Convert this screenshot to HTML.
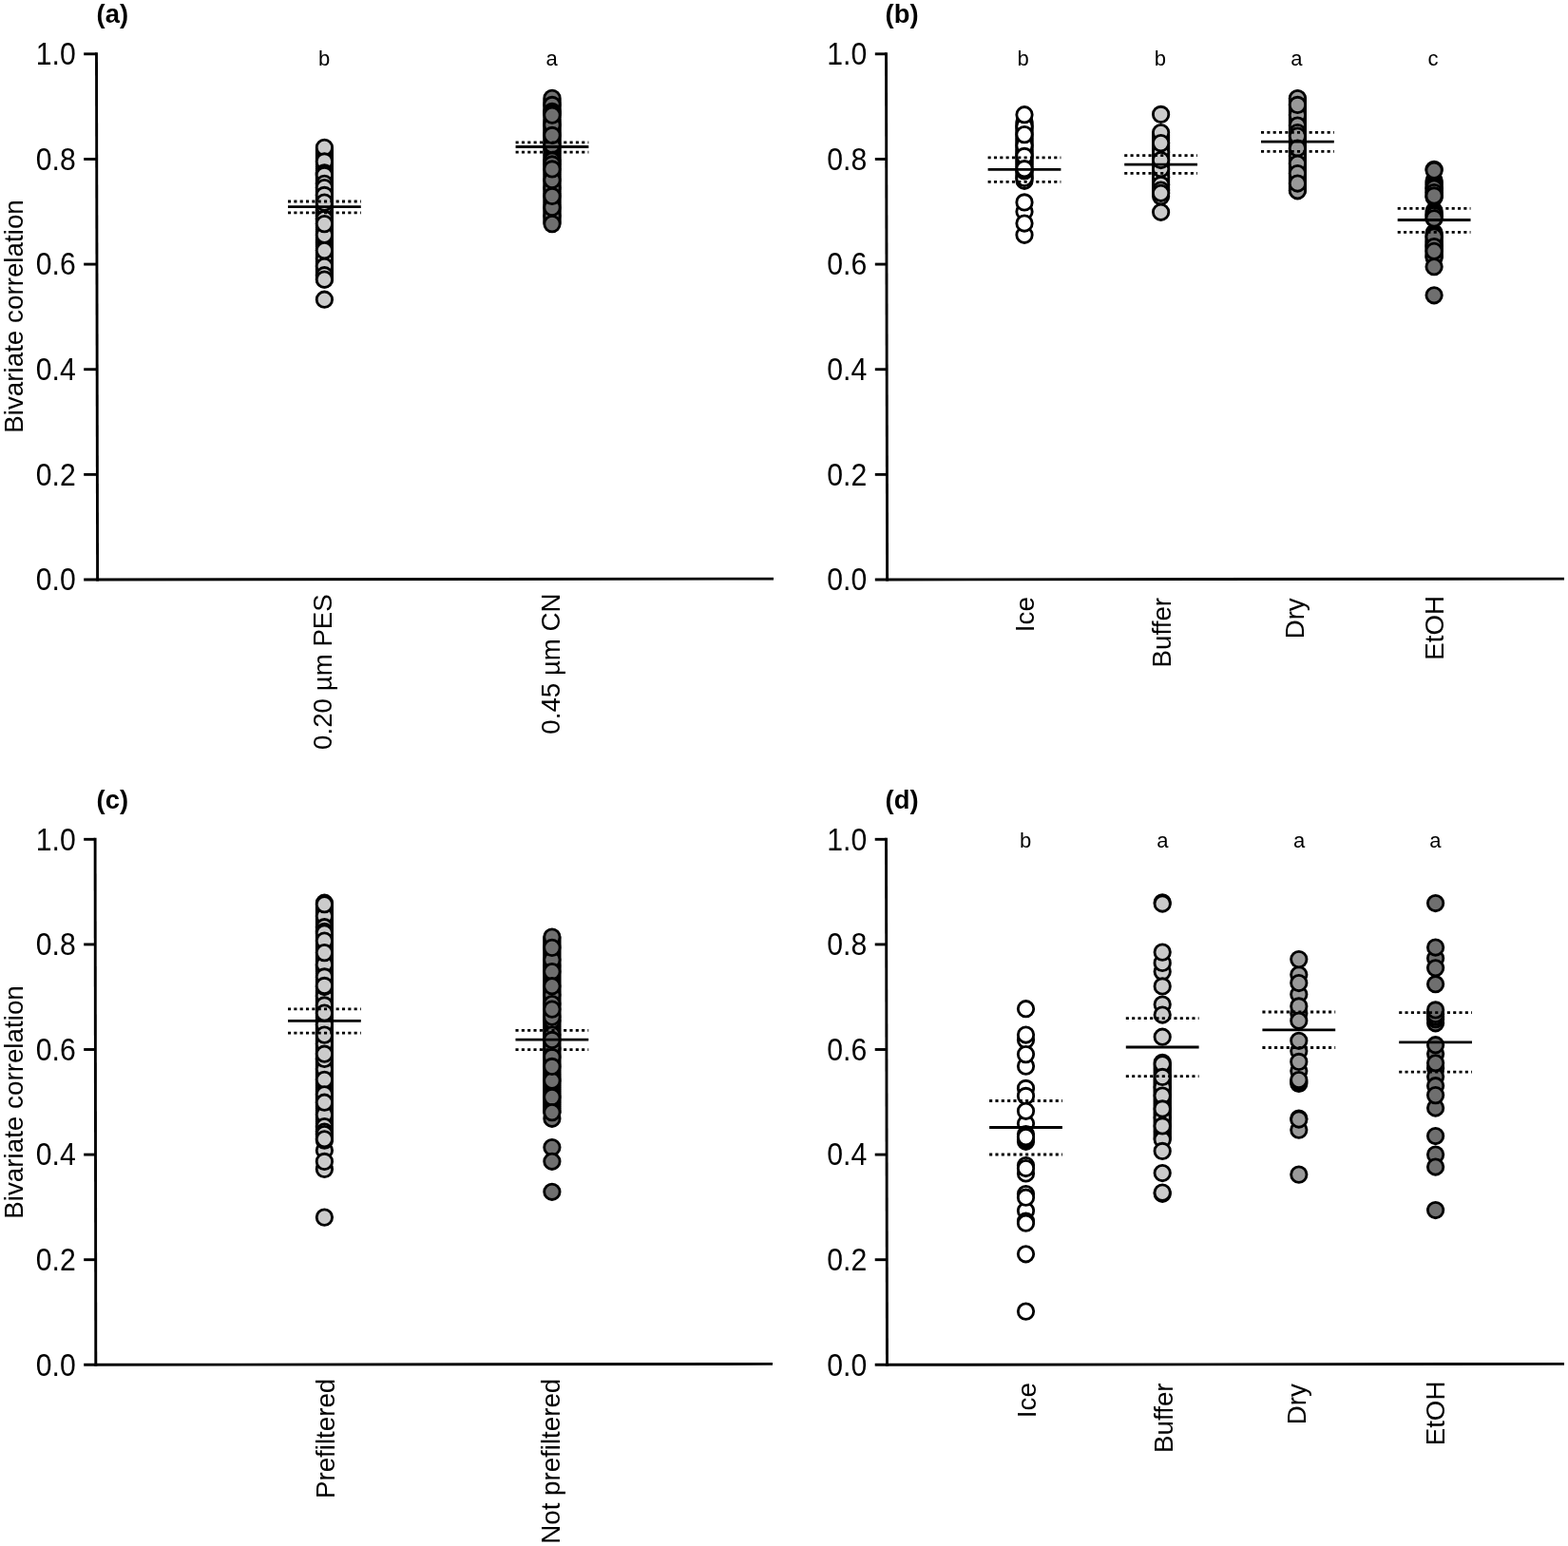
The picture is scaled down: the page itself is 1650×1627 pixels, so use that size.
<!DOCTYPE html>
<html lang="en">
<head>
<meta charset="utf-8">
<title>Bivariate correlation</title>
<style>
html,body{margin:0;padding:0;background:#fff;}
body{width:1650px;height:1627px;overflow:hidden;}
svg{display:block;}
text{font-family:"Liberation Sans",sans-serif;fill:#000;}
.ax{stroke:#000;stroke-width:2.9;fill:none;}
.mn{stroke:#000;stroke-width:2.8;fill:none;}
.dt{stroke:#000;stroke-width:2.8;fill:none;stroke-dasharray:3.1 3.23;}
.pt circle{stroke:#000;stroke-width:2.85;}
.tk{font-size:30.2px;text-anchor:end;}
.cat{font-size:27.7px;text-anchor:end;}
.yl{font-size:27.8px;text-anchor:middle;}
.pl{font-size:28.5px;font-weight:bold;}
.lt{font-size:22px;text-anchor:middle;}
</style>
</head>
<body>
<svg width="1650" height="1627" viewBox="0 0 1650 1627">
<rect width="1650" height="1627" fill="#fff"/>
<text transform="translate(101.6 24.3) scale(0.96 1)" class="pl">(a)</text>
<path d="M101.50 55.35L102.60 611.45" class="ax"/>
<path d="M88.2 610.00L814 609.10" class="ax"/>
<path d="M88.2 499.36H102.38" class="ax"/>
<path d="M88.2 388.72H102.16" class="ax"/>
<path d="M88.2 278.08H101.94" class="ax"/>
<path d="M88.2 167.44H101.72" class="ax"/>
<path d="M88.2 56.80H101.50" class="ax"/>
<text transform="translate(79.8 621.35) scale(1 1.075)" class="tk">0.0</text>
<text transform="translate(79.8 510.71) scale(1 1.075)" class="tk">0.2</text>
<text transform="translate(79.8 400.07) scale(1 1.075)" class="tk">0.4</text>
<text transform="translate(79.8 289.43) scale(1 1.075)" class="tk">0.6</text>
<text transform="translate(79.8 178.79) scale(1 1.075)" class="tk">0.8</text>
<text transform="translate(79.8 68.15) scale(1 1.075)" class="tk">1.0</text>
<text transform="translate(24 333) rotate(-90)" class="yl">Bivariate correlation</text>
<g fill="#cbcbcb" class="pt">
<circle cx="341.4" cy="157.0" r="8.2"/>
<circle cx="341.4" cy="159.01" r="8.2"/>
<circle cx="341.4" cy="161.03" r="8.2"/>
<circle cx="341.4" cy="163.04" r="8.2"/>
<circle cx="341.4" cy="165.06" r="8.2"/>
<circle cx="341.4" cy="167.07" r="8.2"/>
<circle cx="341.4" cy="169.09" r="8.2"/>
<circle cx="341.4" cy="171.1" r="8.2"/>
<circle cx="341.4" cy="173.12" r="8.2"/>
<circle cx="341.4" cy="175.13" r="8.2"/>
<circle cx="341.4" cy="177.15" r="8.2"/>
<circle cx="341.4" cy="179.16" r="8.2"/>
<circle cx="341.4" cy="181.18" r="8.2"/>
<circle cx="341.4" cy="183.19" r="8.2"/>
<circle cx="341.4" cy="185.21" r="8.2"/>
<circle cx="341.4" cy="187.22" r="8.2"/>
<circle cx="341.4" cy="189.24" r="8.2"/>
<circle cx="341.4" cy="191.25" r="8.2"/>
<circle cx="341.4" cy="193.26" r="8.2"/>
<circle cx="341.4" cy="195.28" r="8.2"/>
<circle cx="341.4" cy="197.29" r="8.2"/>
<circle cx="341.4" cy="199.31" r="8.2"/>
<circle cx="341.4" cy="201.32" r="8.2"/>
<circle cx="341.4" cy="203.34" r="8.2"/>
<circle cx="341.4" cy="205.35" r="8.2"/>
<circle cx="341.4" cy="207.37" r="8.2"/>
<circle cx="341.4" cy="209.38" r="8.2"/>
<circle cx="341.4" cy="211.4" r="8.2"/>
<circle cx="341.4" cy="213.41" r="8.2"/>
<circle cx="341.4" cy="215.43" r="8.2"/>
<circle cx="341.4" cy="217.44" r="8.2"/>
<circle cx="341.4" cy="219.46" r="8.2"/>
<circle cx="341.4" cy="221.47" r="8.2"/>
<circle cx="341.4" cy="223.49" r="8.2"/>
<circle cx="341.4" cy="225.5" r="8.2"/>
<circle cx="341.4" cy="227.51" r="8.2"/>
<circle cx="341.4" cy="229.53" r="8.2"/>
<circle cx="341.4" cy="231.54" r="8.2"/>
<circle cx="341.4" cy="233.56" r="8.2"/>
<circle cx="341.4" cy="235.57" r="8.2"/>
<circle cx="341.4" cy="237.59" r="8.2"/>
<circle cx="341.4" cy="239.6" r="8.2"/>
<circle cx="341.4" cy="241.62" r="8.2"/>
<circle cx="341.4" cy="243.63" r="8.2"/>
<circle cx="341.4" cy="245.65" r="8.2"/>
<circle cx="341.4" cy="247.66" r="8.2"/>
<circle cx="341.4" cy="249.68" r="8.2"/>
<circle cx="341.4" cy="251.69" r="8.2"/>
<circle cx="341.4" cy="253.71" r="8.2"/>
<circle cx="341.4" cy="255.72" r="8.2"/>
<circle cx="341.4" cy="257.74" r="8.2"/>
<circle cx="341.4" cy="259.75" r="8.2"/>
<circle cx="341.4" cy="261.76" r="8.2"/>
<circle cx="341.4" cy="263.78" r="8.2"/>
<circle cx="341.4" cy="265.79" r="8.2"/>
<circle cx="341.4" cy="267.81" r="8.2"/>
<circle cx="341.4" cy="269.82" r="8.2"/>
<circle cx="341.4" cy="271.84" r="8.2"/>
<circle cx="341.4" cy="273.85" r="8.2"/>
<circle cx="341.4" cy="275.87" r="8.2"/>
<circle cx="341.4" cy="277.88" r="8.2"/>
<circle cx="341.4" cy="279.9" r="8.2"/>
<circle cx="341.4" cy="281.91" r="8.2"/>
<circle cx="341.4" cy="283.93" r="8.2"/>
<circle cx="341.4" cy="285.94" r="8.2"/>
<circle cx="341.4" cy="287.96" r="8.2"/>
<circle cx="341.4" cy="289.97" r="8.2"/>
<circle cx="341.4" cy="291.99" r="8.2"/>
<circle cx="341.4" cy="294.0" r="8.2"/>
<circle cx="341.4" cy="272" r="8.2"/>
<circle cx="341.4" cy="221" r="8.2"/>
<circle cx="341.4" cy="227" r="8.2"/>
<circle cx="341.4" cy="224" r="8.2"/>
<circle cx="341.4" cy="217.6" r="8.2"/>
<circle cx="341.4" cy="230.4" r="8.2"/>
<circle cx="341.4" cy="247.1" r="8.2"/>
<circle cx="341.4" cy="280.3" r="8.2"/>
<circle cx="341.4" cy="155.3" r="8.2"/>
<circle cx="341.4" cy="169.9" r="8.2"/>
<circle cx="341.4" cy="181.9" r="8.2"/>
<circle cx="341.4" cy="183.1" r="8.2"/>
<circle cx="341.4" cy="184.4" r="8.2"/>
<circle cx="341.4" cy="193.3" r="8.2"/>
<circle cx="341.4" cy="197.6" r="8.2"/>
<circle cx="341.4" cy="205.4" r="8.2"/>
<circle cx="341.4" cy="213.1" r="8.2"/>
<circle cx="341.4" cy="235.6" r="8.2"/>
<circle cx="341.4" cy="263.6" r="8.2"/>
<circle cx="341.4" cy="289.7" r="8.2"/>
<circle cx="341.4" cy="294.1" r="8.2"/>
<circle cx="341.4" cy="315.2" r="8.2"/>
</g>
<path d="M303.00 217.6H379.80" class="mn"/>
<path d="M303.00 212.0H379.80" class="dt"/>
<path d="M303.00 223.9H379.80" class="dt"/>
<g fill="#6f6f6f" class="pt">
<circle cx="581" cy="105.0" r="8.2"/>
<circle cx="581" cy="107.02" r="8.2"/>
<circle cx="581" cy="109.03" r="8.2"/>
<circle cx="581" cy="111.05" r="8.2"/>
<circle cx="581" cy="113.06" r="8.2"/>
<circle cx="581" cy="115.08" r="8.2"/>
<circle cx="581" cy="117.09" r="8.2"/>
<circle cx="581" cy="119.11" r="8.2"/>
<circle cx="581" cy="121.12" r="8.2"/>
<circle cx="581" cy="123.14" r="8.2"/>
<circle cx="581" cy="125.16" r="8.2"/>
<circle cx="581" cy="127.17" r="8.2"/>
<circle cx="581" cy="129.19" r="8.2"/>
<circle cx="581" cy="131.2" r="8.2"/>
<circle cx="581" cy="133.22" r="8.2"/>
<circle cx="581" cy="135.23" r="8.2"/>
<circle cx="581" cy="137.25" r="8.2"/>
<circle cx="581" cy="139.27" r="8.2"/>
<circle cx="581" cy="141.28" r="8.2"/>
<circle cx="581" cy="143.3" r="8.2"/>
<circle cx="581" cy="145.31" r="8.2"/>
<circle cx="581" cy="147.33" r="8.2"/>
<circle cx="581" cy="149.34" r="8.2"/>
<circle cx="581" cy="151.36" r="8.2"/>
<circle cx="581" cy="153.38" r="8.2"/>
<circle cx="581" cy="155.39" r="8.2"/>
<circle cx="581" cy="157.41" r="8.2"/>
<circle cx="581" cy="159.42" r="8.2"/>
<circle cx="581" cy="161.44" r="8.2"/>
<circle cx="581" cy="163.45" r="8.2"/>
<circle cx="581" cy="165.47" r="8.2"/>
<circle cx="581" cy="167.48" r="8.2"/>
<circle cx="581" cy="169.5" r="8.2"/>
<circle cx="581" cy="171.52" r="8.2"/>
<circle cx="581" cy="173.53" r="8.2"/>
<circle cx="581" cy="175.55" r="8.2"/>
<circle cx="581" cy="177.56" r="8.2"/>
<circle cx="581" cy="179.58" r="8.2"/>
<circle cx="581" cy="181.59" r="8.2"/>
<circle cx="581" cy="183.61" r="8.2"/>
<circle cx="581" cy="185.62" r="8.2"/>
<circle cx="581" cy="187.64" r="8.2"/>
<circle cx="581" cy="189.66" r="8.2"/>
<circle cx="581" cy="191.67" r="8.2"/>
<circle cx="581" cy="193.69" r="8.2"/>
<circle cx="581" cy="195.7" r="8.2"/>
<circle cx="581" cy="197.72" r="8.2"/>
<circle cx="581" cy="199.73" r="8.2"/>
<circle cx="581" cy="201.75" r="8.2"/>
<circle cx="581" cy="203.77" r="8.2"/>
<circle cx="581" cy="205.78" r="8.2"/>
<circle cx="581" cy="207.8" r="8.2"/>
<circle cx="581" cy="209.81" r="8.2"/>
<circle cx="581" cy="211.83" r="8.2"/>
<circle cx="581" cy="213.84" r="8.2"/>
<circle cx="581" cy="215.86" r="8.2"/>
<circle cx="581" cy="217.88" r="8.2"/>
<circle cx="581" cy="219.89" r="8.2"/>
<circle cx="581" cy="221.91" r="8.2"/>
<circle cx="581" cy="223.92" r="8.2"/>
<circle cx="581" cy="225.94" r="8.2"/>
<circle cx="581" cy="227.95" r="8.2"/>
<circle cx="581" cy="229.97" r="8.2"/>
<circle cx="581" cy="231.98" r="8.2"/>
<circle cx="581" cy="234.0" r="8.2"/>
<circle cx="581" cy="197.8" r="8.2"/>
<circle cx="581" cy="227" r="8.2"/>
<circle cx="581" cy="131.5" r="8.2"/>
<circle cx="581" cy="189.5" r="8.2"/>
<circle cx="581" cy="218.4" r="8.2"/>
<circle cx="581" cy="103.3" r="8.2"/>
<circle cx="581" cy="110.4" r="8.2"/>
<circle cx="581" cy="117.3" r="8.2"/>
<circle cx="581" cy="119.2" r="8.2"/>
<circle cx="581" cy="121.2" r="8.2"/>
<circle cx="581" cy="169" r="8.2"/>
<circle cx="581" cy="172.9" r="8.2"/>
<circle cx="581" cy="152.5" r="8.2"/>
<circle cx="581" cy="142.4" r="8.2"/>
<circle cx="581" cy="177.9" r="8.2"/>
<circle cx="581" cy="206.4" r="8.2"/>
<circle cx="581" cy="235.6" r="8.2"/>
</g>
<path d="M542.60 154.5H619.40" class="mn"/>
<path d="M542.60 149.8H619.40" class="dt"/>
<path d="M542.60 160.2H619.40" class="dt"/>
<text x="341" y="69.3" class="lt">b</text>
<text x="580.7" y="69.3" class="lt">a</text>
<text transform="translate(349 625.2) rotate(-90)" class="cat">0.20 µm PES</text>
<text transform="translate(588.6 624.4) rotate(-90)" class="cat">0.45 µm CN</text>
<text transform="translate(931.6 24.3) scale(0.96 1)" class="pl">(b)</text>
<path d="M932.50 55.35L933.60 611.45" class="ax"/>
<path d="M920.8 610.00L1646 609.10" class="ax"/>
<path d="M920.8 499.36H933.38" class="ax"/>
<path d="M920.8 388.72H933.16" class="ax"/>
<path d="M920.8 278.08H932.94" class="ax"/>
<path d="M920.8 167.44H932.72" class="ax"/>
<path d="M920.8 56.80H932.50" class="ax"/>
<text transform="translate(912.2 621.35) scale(1 1.075)" class="tk">0.0</text>
<text transform="translate(912.2 510.71) scale(1 1.075)" class="tk">0.2</text>
<text transform="translate(912.2 400.07) scale(1 1.075)" class="tk">0.4</text>
<text transform="translate(912.2 289.43) scale(1 1.075)" class="tk">0.6</text>
<text transform="translate(912.2 178.79) scale(1 1.075)" class="tk">0.8</text>
<text transform="translate(912.2 68.15) scale(1 1.075)" class="tk">1.0</text>
<g fill="#ffffff" class="pt">
<circle cx="1078" cy="128.0" r="8.2"/>
<circle cx="1078" cy="129.97" r="8.2"/>
<circle cx="1078" cy="131.93" r="8.2"/>
<circle cx="1078" cy="133.9" r="8.2"/>
<circle cx="1078" cy="135.87" r="8.2"/>
<circle cx="1078" cy="137.83" r="8.2"/>
<circle cx="1078" cy="139.8" r="8.2"/>
<circle cx="1078" cy="141.77" r="8.2"/>
<circle cx="1078" cy="143.73" r="8.2"/>
<circle cx="1078" cy="145.7" r="8.2"/>
<circle cx="1078" cy="147.67" r="8.2"/>
<circle cx="1078" cy="149.63" r="8.2"/>
<circle cx="1078" cy="151.6" r="8.2"/>
<circle cx="1078" cy="153.57" r="8.2"/>
<circle cx="1078" cy="155.53" r="8.2"/>
<circle cx="1078" cy="157.5" r="8.2"/>
<circle cx="1078" cy="159.47" r="8.2"/>
<circle cx="1078" cy="161.43" r="8.2"/>
<circle cx="1078" cy="163.4" r="8.2"/>
<circle cx="1078" cy="165.37" r="8.2"/>
<circle cx="1078" cy="167.33" r="8.2"/>
<circle cx="1078" cy="169.3" r="8.2"/>
<circle cx="1078" cy="171.27" r="8.2"/>
<circle cx="1078" cy="173.23" r="8.2"/>
<circle cx="1078" cy="175.2" r="8.2"/>
<circle cx="1078" cy="177.17" r="8.2"/>
<circle cx="1078" cy="179.13" r="8.2"/>
<circle cx="1078" cy="181.1" r="8.2"/>
<circle cx="1078" cy="183.07" r="8.2"/>
<circle cx="1078" cy="185.03" r="8.2"/>
<circle cx="1078" cy="187.0" r="8.2"/>
<circle cx="1078" cy="190.3" r="8.2"/>
<circle cx="1078" cy="187.4" r="8.2"/>
<circle cx="1078" cy="179.9" r="8.2"/>
<circle cx="1078" cy="133" r="8.2"/>
<circle cx="1078" cy="153" r="8.2"/>
<circle cx="1078" cy="164.4" r="8.2"/>
<circle cx="1078" cy="222.7" r="8.2"/>
<circle cx="1078" cy="247.3" r="8.2"/>
<circle cx="1078" cy="120.7" r="8.2"/>
<circle cx="1078" cy="141.6" r="8.2"/>
<circle cx="1078" cy="177.65" r="8.2"/>
<circle cx="1078" cy="212.9" r="8.2"/>
<circle cx="1078" cy="235" r="8.2"/>
</g>
<path d="M1039.60 178.45H1116.40" class="mn"/>
<path d="M1039.60 165.9H1116.40" class="dt"/>
<path d="M1039.60 191.4H1116.40" class="dt"/>
<g fill="#cbcbcb" class="pt">
<circle cx="1221.6" cy="142.0" r="8.2"/>
<circle cx="1221.6" cy="144.03" r="8.2"/>
<circle cx="1221.6" cy="146.07" r="8.2"/>
<circle cx="1221.6" cy="148.1" r="8.2"/>
<circle cx="1221.6" cy="150.13" r="8.2"/>
<circle cx="1221.6" cy="152.17" r="8.2"/>
<circle cx="1221.6" cy="154.2" r="8.2"/>
<circle cx="1221.6" cy="156.23" r="8.2"/>
<circle cx="1221.6" cy="158.27" r="8.2"/>
<circle cx="1221.6" cy="160.3" r="8.2"/>
<circle cx="1221.6" cy="162.33" r="8.2"/>
<circle cx="1221.6" cy="164.37" r="8.2"/>
<circle cx="1221.6" cy="166.4" r="8.2"/>
<circle cx="1221.6" cy="168.43" r="8.2"/>
<circle cx="1221.6" cy="170.47" r="8.2"/>
<circle cx="1221.6" cy="172.5" r="8.2"/>
<circle cx="1221.6" cy="174.53" r="8.2"/>
<circle cx="1221.6" cy="176.57" r="8.2"/>
<circle cx="1221.6" cy="178.6" r="8.2"/>
<circle cx="1221.6" cy="180.63" r="8.2"/>
<circle cx="1221.6" cy="182.67" r="8.2"/>
<circle cx="1221.6" cy="184.7" r="8.2"/>
<circle cx="1221.6" cy="186.73" r="8.2"/>
<circle cx="1221.6" cy="188.77" r="8.2"/>
<circle cx="1221.6" cy="190.8" r="8.2"/>
<circle cx="1221.6" cy="192.83" r="8.2"/>
<circle cx="1221.6" cy="194.87" r="8.2"/>
<circle cx="1221.6" cy="196.9" r="8.2"/>
<circle cx="1221.6" cy="198.93" r="8.2"/>
<circle cx="1221.6" cy="200.97" r="8.2"/>
<circle cx="1221.6" cy="203.0" r="8.2"/>
<circle cx="1221.6" cy="160" r="8.2"/>
<circle cx="1221.6" cy="186.5" r="8.2"/>
<circle cx="1221.6" cy="177.8" r="8.2"/>
<circle cx="1221.6" cy="139.5" r="8.2"/>
<circle cx="1221.6" cy="194.4" r="8.2"/>
<circle cx="1221.6" cy="200.1" r="8.2"/>
<circle cx="1221.6" cy="206.6" r="8.2"/>
<circle cx="1221.6" cy="120.4" r="8.2"/>
<circle cx="1221.6" cy="150.6" r="8.2"/>
<circle cx="1221.6" cy="168.5" r="8.2"/>
<circle cx="1221.6" cy="203.3" r="8.2"/>
<circle cx="1221.6" cy="223.3" r="8.2"/>
</g>
<path d="M1183.20 173.1H1260.00" class="mn"/>
<path d="M1183.20 163.7H1260.00" class="dt"/>
<path d="M1183.20 182.45H1260.00" class="dt"/>
<g fill="#999999" class="pt">
<circle cx="1365.4" cy="104.0" r="8.2"/>
<circle cx="1365.4" cy="106.0" r="8.2"/>
<circle cx="1365.4" cy="108.0" r="8.2"/>
<circle cx="1365.4" cy="110.0" r="8.2"/>
<circle cx="1365.4" cy="112.0" r="8.2"/>
<circle cx="1365.4" cy="114.0" r="8.2"/>
<circle cx="1365.4" cy="116.0" r="8.2"/>
<circle cx="1365.4" cy="118.0" r="8.2"/>
<circle cx="1365.4" cy="120.0" r="8.2"/>
<circle cx="1365.4" cy="122.0" r="8.2"/>
<circle cx="1365.4" cy="124.0" r="8.2"/>
<circle cx="1365.4" cy="126.0" r="8.2"/>
<circle cx="1365.4" cy="128.0" r="8.2"/>
<circle cx="1365.4" cy="130.0" r="8.2"/>
<circle cx="1365.4" cy="132.0" r="8.2"/>
<circle cx="1365.4" cy="134.0" r="8.2"/>
<circle cx="1365.4" cy="136.0" r="8.2"/>
<circle cx="1365.4" cy="138.0" r="8.2"/>
<circle cx="1365.4" cy="140.0" r="8.2"/>
<circle cx="1365.4" cy="142.0" r="8.2"/>
<circle cx="1365.4" cy="144.0" r="8.2"/>
<circle cx="1365.4" cy="146.0" r="8.2"/>
<circle cx="1365.4" cy="148.0" r="8.2"/>
<circle cx="1365.4" cy="150.0" r="8.2"/>
<circle cx="1365.4" cy="152.0" r="8.2"/>
<circle cx="1365.4" cy="154.0" r="8.2"/>
<circle cx="1365.4" cy="156.0" r="8.2"/>
<circle cx="1365.4" cy="158.0" r="8.2"/>
<circle cx="1365.4" cy="160.0" r="8.2"/>
<circle cx="1365.4" cy="162.0" r="8.2"/>
<circle cx="1365.4" cy="164.0" r="8.2"/>
<circle cx="1365.4" cy="166.0" r="8.2"/>
<circle cx="1365.4" cy="168.0" r="8.2"/>
<circle cx="1365.4" cy="170.0" r="8.2"/>
<circle cx="1365.4" cy="172.0" r="8.2"/>
<circle cx="1365.4" cy="174.0" r="8.2"/>
<circle cx="1365.4" cy="176.0" r="8.2"/>
<circle cx="1365.4" cy="178.0" r="8.2"/>
<circle cx="1365.4" cy="180.0" r="8.2"/>
<circle cx="1365.4" cy="182.0" r="8.2"/>
<circle cx="1365.4" cy="184.0" r="8.2"/>
<circle cx="1365.4" cy="186.0" r="8.2"/>
<circle cx="1365.4" cy="188.0" r="8.2"/>
<circle cx="1365.4" cy="190.0" r="8.2"/>
<circle cx="1365.4" cy="192.0" r="8.2"/>
<circle cx="1365.4" cy="194.0" r="8.2"/>
<circle cx="1365.4" cy="196.0" r="8.2"/>
<circle cx="1365.4" cy="198.0" r="8.2"/>
<circle cx="1365.4" cy="200.0" r="8.2"/>
<circle cx="1365.4" cy="103.5" r="8.2"/>
<circle cx="1365.4" cy="121" r="8.2"/>
<circle cx="1365.4" cy="164" r="8.2"/>
<circle cx="1365.4" cy="132.1" r="8.2"/>
<circle cx="1365.4" cy="139.6" r="8.2"/>
<circle cx="1365.4" cy="143.1" r="8.2"/>
<circle cx="1365.4" cy="156" r="8.2"/>
<circle cx="1365.4" cy="172.2" r="8.2"/>
<circle cx="1365.4" cy="182.5" r="8.2"/>
<circle cx="1365.4" cy="200.8" r="8.2"/>
<circle cx="1365.4" cy="110.4" r="8.2"/>
<circle cx="1365.4" cy="193" r="8.2"/>
</g>
<path d="M1327.00 149.2H1403.80" class="mn"/>
<path d="M1327.00 139.3H1403.80" class="dt"/>
<path d="M1327.00 159.3H1403.80" class="dt"/>
<g fill="#6f6f6f" class="pt">
<circle cx="1509.1" cy="190.0" r="8.2"/>
<circle cx="1509.1" cy="192.12" r="8.2"/>
<circle cx="1509.1" cy="194.25" r="8.2"/>
<circle cx="1509.1" cy="196.38" r="8.2"/>
<circle cx="1509.1" cy="198.5" r="8.2"/>
<circle cx="1509.1" cy="200.62" r="8.2"/>
<circle cx="1509.1" cy="202.75" r="8.2"/>
<circle cx="1509.1" cy="204.88" r="8.2"/>
<circle cx="1509.1" cy="207.0" r="8.2"/>
<circle cx="1509.1" cy="222.0" r="8.2"/>
<circle cx="1509.1" cy="224.0" r="8.2"/>
<circle cx="1509.1" cy="226.0" r="8.2"/>
<circle cx="1509.1" cy="228.0" r="8.2"/>
<circle cx="1509.1" cy="230.0" r="8.2"/>
<circle cx="1509.1" cy="245.0" r="8.2"/>
<circle cx="1509.1" cy="247.0" r="8.2"/>
<circle cx="1509.1" cy="249.0" r="8.2"/>
<circle cx="1509.1" cy="251.0" r="8.2"/>
<circle cx="1509.1" cy="253.0" r="8.2"/>
<circle cx="1509.1" cy="255.0" r="8.2"/>
<circle cx="1509.1" cy="257.0" r="8.2"/>
<circle cx="1509.1" cy="259.0" r="8.2"/>
<circle cx="1509.1" cy="261.0" r="8.2"/>
<circle cx="1509.1" cy="263.0" r="8.2"/>
<circle cx="1509.1" cy="265.0" r="8.2"/>
<circle cx="1509.1" cy="267.0" r="8.2"/>
<circle cx="1509.1" cy="269.0" r="8.2"/>
<circle cx="1509.1" cy="271.0" r="8.2"/>
<circle cx="1509.1" cy="178.3" r="8.2"/>
<circle cx="1509.1" cy="198" r="8.2"/>
<circle cx="1509.1" cy="202.5" r="8.2"/>
<circle cx="1509.1" cy="207.8" r="8.2"/>
<circle cx="1509.1" cy="226.6" r="8.2"/>
<circle cx="1509.1" cy="249" r="8.2"/>
<circle cx="1509.1" cy="259.5" r="8.2"/>
<circle cx="1509.1" cy="270.2" r="8.2"/>
<circle cx="1509.1" cy="179.2" r="8.2"/>
<circle cx="1509.1" cy="205.9" r="8.2"/>
<circle cx="1509.1" cy="229.85" r="8.2"/>
<circle cx="1509.1" cy="264.3" r="8.2"/>
<circle cx="1509.1" cy="280.7" r="8.2"/>
<circle cx="1509.1" cy="310.8" r="8.2"/>
</g>
<path d="M1470.70 231.5H1547.50" class="mn"/>
<path d="M1470.70 219.4H1547.50" class="dt"/>
<path d="M1470.70 244.3H1547.50" class="dt"/>
<text x="1076.6" y="69.4" class="lt">b</text>
<text x="1220.8" y="69.4" class="lt">b</text>
<text x="1364.3" y="69.4" class="lt">a</text>
<text x="1508" y="69.4" class="lt">c</text>
<text transform="translate(1088 628.2) rotate(-90)" class="cat">Ice</text>
<text transform="translate(1232.3 629) rotate(-90)" class="cat">Buffer</text>
<text transform="translate(1372.4 629.3) rotate(-90)" class="cat">Dry</text>
<text transform="translate(1519.1 627) rotate(-90)" class="cat">EtOH</text>
<text transform="translate(101.6 850.8) scale(0.96 1)" class="pl">(c)</text>
<path d="M100.10 881.85L100.80 1437.75" class="ax"/>
<path d="M88.2 1436.30L813 1435.40" class="ax"/>
<path d="M88.2 1325.70H100.66" class="ax"/>
<path d="M88.2 1215.10H100.52" class="ax"/>
<path d="M88.2 1104.50H100.38" class="ax"/>
<path d="M88.2 993.90H100.24" class="ax"/>
<path d="M88.2 883.30H100.10" class="ax"/>
<text transform="translate(79.8 1447.65) scale(1 1.075)" class="tk">0.0</text>
<text transform="translate(79.8 1337.05) scale(1 1.075)" class="tk">0.2</text>
<text transform="translate(79.8 1226.45) scale(1 1.075)" class="tk">0.4</text>
<text transform="translate(79.8 1115.85) scale(1 1.075)" class="tk">0.6</text>
<text transform="translate(79.8 1005.25) scale(1 1.075)" class="tk">0.8</text>
<text transform="translate(79.8 894.65) scale(1 1.075)" class="tk">1.0</text>
<text transform="translate(24 1160) rotate(-90)" class="yl">Bivariate correlation</text>
<g fill="#cbcbcb" class="pt">
<circle cx="341.4" cy="952.0" r="8.2"/>
<circle cx="341.4" cy="954.0" r="8.2"/>
<circle cx="341.4" cy="956.01" r="8.2"/>
<circle cx="341.4" cy="958.01" r="8.2"/>
<circle cx="341.4" cy="960.02" r="8.2"/>
<circle cx="341.4" cy="962.02" r="8.2"/>
<circle cx="341.4" cy="964.02" r="8.2"/>
<circle cx="341.4" cy="966.03" r="8.2"/>
<circle cx="341.4" cy="968.03" r="8.2"/>
<circle cx="341.4" cy="970.04" r="8.2"/>
<circle cx="341.4" cy="972.04" r="8.2"/>
<circle cx="341.4" cy="974.04" r="8.2"/>
<circle cx="341.4" cy="976.05" r="8.2"/>
<circle cx="341.4" cy="978.05" r="8.2"/>
<circle cx="341.4" cy="980.06" r="8.2"/>
<circle cx="341.4" cy="982.06" r="8.2"/>
<circle cx="341.4" cy="984.07" r="8.2"/>
<circle cx="341.4" cy="986.07" r="8.2"/>
<circle cx="341.4" cy="988.07" r="8.2"/>
<circle cx="341.4" cy="990.08" r="8.2"/>
<circle cx="341.4" cy="992.08" r="8.2"/>
<circle cx="341.4" cy="994.09" r="8.2"/>
<circle cx="341.4" cy="996.09" r="8.2"/>
<circle cx="341.4" cy="998.09" r="8.2"/>
<circle cx="341.4" cy="1000.1" r="8.2"/>
<circle cx="341.4" cy="1002.1" r="8.2"/>
<circle cx="341.4" cy="1004.11" r="8.2"/>
<circle cx="341.4" cy="1006.11" r="8.2"/>
<circle cx="341.4" cy="1008.11" r="8.2"/>
<circle cx="341.4" cy="1010.12" r="8.2"/>
<circle cx="341.4" cy="1012.12" r="8.2"/>
<circle cx="341.4" cy="1014.13" r="8.2"/>
<circle cx="341.4" cy="1016.13" r="8.2"/>
<circle cx="341.4" cy="1018.13" r="8.2"/>
<circle cx="341.4" cy="1020.14" r="8.2"/>
<circle cx="341.4" cy="1022.14" r="8.2"/>
<circle cx="341.4" cy="1024.15" r="8.2"/>
<circle cx="341.4" cy="1026.15" r="8.2"/>
<circle cx="341.4" cy="1028.15" r="8.2"/>
<circle cx="341.4" cy="1030.16" r="8.2"/>
<circle cx="341.4" cy="1032.16" r="8.2"/>
<circle cx="341.4" cy="1034.17" r="8.2"/>
<circle cx="341.4" cy="1036.17" r="8.2"/>
<circle cx="341.4" cy="1038.17" r="8.2"/>
<circle cx="341.4" cy="1040.18" r="8.2"/>
<circle cx="341.4" cy="1042.18" r="8.2"/>
<circle cx="341.4" cy="1044.19" r="8.2"/>
<circle cx="341.4" cy="1046.19" r="8.2"/>
<circle cx="341.4" cy="1048.2" r="8.2"/>
<circle cx="341.4" cy="1050.2" r="8.2"/>
<circle cx="341.4" cy="1052.2" r="8.2"/>
<circle cx="341.4" cy="1054.21" r="8.2"/>
<circle cx="341.4" cy="1056.21" r="8.2"/>
<circle cx="341.4" cy="1058.22" r="8.2"/>
<circle cx="341.4" cy="1060.22" r="8.2"/>
<circle cx="341.4" cy="1062.22" r="8.2"/>
<circle cx="341.4" cy="1064.23" r="8.2"/>
<circle cx="341.4" cy="1066.23" r="8.2"/>
<circle cx="341.4" cy="1068.24" r="8.2"/>
<circle cx="341.4" cy="1070.24" r="8.2"/>
<circle cx="341.4" cy="1072.24" r="8.2"/>
<circle cx="341.4" cy="1074.25" r="8.2"/>
<circle cx="341.4" cy="1076.25" r="8.2"/>
<circle cx="341.4" cy="1078.26" r="8.2"/>
<circle cx="341.4" cy="1080.26" r="8.2"/>
<circle cx="341.4" cy="1082.26" r="8.2"/>
<circle cx="341.4" cy="1084.27" r="8.2"/>
<circle cx="341.4" cy="1086.27" r="8.2"/>
<circle cx="341.4" cy="1088.28" r="8.2"/>
<circle cx="341.4" cy="1090.28" r="8.2"/>
<circle cx="341.4" cy="1092.28" r="8.2"/>
<circle cx="341.4" cy="1094.29" r="8.2"/>
<circle cx="341.4" cy="1096.29" r="8.2"/>
<circle cx="341.4" cy="1098.3" r="8.2"/>
<circle cx="341.4" cy="1100.3" r="8.2"/>
<circle cx="341.4" cy="1102.3" r="8.2"/>
<circle cx="341.4" cy="1104.31" r="8.2"/>
<circle cx="341.4" cy="1106.31" r="8.2"/>
<circle cx="341.4" cy="1108.32" r="8.2"/>
<circle cx="341.4" cy="1110.32" r="8.2"/>
<circle cx="341.4" cy="1112.33" r="8.2"/>
<circle cx="341.4" cy="1114.33" r="8.2"/>
<circle cx="341.4" cy="1116.33" r="8.2"/>
<circle cx="341.4" cy="1118.34" r="8.2"/>
<circle cx="341.4" cy="1120.34" r="8.2"/>
<circle cx="341.4" cy="1122.35" r="8.2"/>
<circle cx="341.4" cy="1124.35" r="8.2"/>
<circle cx="341.4" cy="1126.35" r="8.2"/>
<circle cx="341.4" cy="1128.36" r="8.2"/>
<circle cx="341.4" cy="1130.36" r="8.2"/>
<circle cx="341.4" cy="1132.37" r="8.2"/>
<circle cx="341.4" cy="1134.37" r="8.2"/>
<circle cx="341.4" cy="1136.37" r="8.2"/>
<circle cx="341.4" cy="1138.38" r="8.2"/>
<circle cx="341.4" cy="1140.38" r="8.2"/>
<circle cx="341.4" cy="1142.39" r="8.2"/>
<circle cx="341.4" cy="1144.39" r="8.2"/>
<circle cx="341.4" cy="1146.39" r="8.2"/>
<circle cx="341.4" cy="1148.4" r="8.2"/>
<circle cx="341.4" cy="1150.4" r="8.2"/>
<circle cx="341.4" cy="1152.41" r="8.2"/>
<circle cx="341.4" cy="1154.41" r="8.2"/>
<circle cx="341.4" cy="1156.41" r="8.2"/>
<circle cx="341.4" cy="1158.42" r="8.2"/>
<circle cx="341.4" cy="1160.42" r="8.2"/>
<circle cx="341.4" cy="1162.43" r="8.2"/>
<circle cx="341.4" cy="1164.43" r="8.2"/>
<circle cx="341.4" cy="1166.43" r="8.2"/>
<circle cx="341.4" cy="1168.44" r="8.2"/>
<circle cx="341.4" cy="1170.44" r="8.2"/>
<circle cx="341.4" cy="1172.45" r="8.2"/>
<circle cx="341.4" cy="1174.45" r="8.2"/>
<circle cx="341.4" cy="1176.46" r="8.2"/>
<circle cx="341.4" cy="1178.46" r="8.2"/>
<circle cx="341.4" cy="1180.46" r="8.2"/>
<circle cx="341.4" cy="1182.47" r="8.2"/>
<circle cx="341.4" cy="1184.47" r="8.2"/>
<circle cx="341.4" cy="1186.48" r="8.2"/>
<circle cx="341.4" cy="1188.48" r="8.2"/>
<circle cx="341.4" cy="1190.48" r="8.2"/>
<circle cx="341.4" cy="1192.49" r="8.2"/>
<circle cx="341.4" cy="1194.49" r="8.2"/>
<circle cx="341.4" cy="1196.5" r="8.2"/>
<circle cx="341.4" cy="1198.5" r="8.2"/>
<circle cx="341.4" cy="1048.3" r="8.2"/>
<circle cx="341.4" cy="1098.8" r="8.2"/>
<circle cx="341.4" cy="950.2" r="8.2"/>
<circle cx="341.4" cy="964" r="8.2"/>
<circle cx="341.4" cy="1014.9" r="8.2"/>
<circle cx="341.4" cy="1038.5" r="8.2"/>
<circle cx="341.4" cy="1078.5" r="8.2"/>
<circle cx="341.4" cy="1125" r="8.2"/>
<circle cx="341.4" cy="1114.4" r="8.2"/>
<circle cx="341.4" cy="1173.1" r="8.2"/>
<circle cx="341.4" cy="1210.7" r="8.2"/>
<circle cx="341.4" cy="1230.4" r="8.2"/>
<circle cx="341.4" cy="951.7" r="8.2"/>
<circle cx="341.4" cy="975.7" r="8.2"/>
<circle cx="341.4" cy="980.3" r="8.2"/>
<circle cx="341.4" cy="982.1" r="8.2"/>
<circle cx="341.4" cy="990.1" r="8.2"/>
<circle cx="341.4" cy="1002.6" r="8.2"/>
<circle cx="341.4" cy="1027.9" r="8.2"/>
<circle cx="341.4" cy="1037.4" r="8.2"/>
<circle cx="341.4" cy="1057.9" r="8.2"/>
<circle cx="341.4" cy="1066" r="8.2"/>
<circle cx="341.4" cy="1089.1" r="8.2"/>
<circle cx="341.4" cy="1109.2" r="8.2"/>
<circle cx="341.4" cy="1136.3" r="8.2"/>
<circle cx="341.4" cy="1151.75" r="8.2"/>
<circle cx="341.4" cy="1160.2" r="8.2"/>
<circle cx="341.4" cy="1185.6" r="8.2"/>
<circle cx="341.4" cy="1191.1" r="8.2"/>
<circle cx="341.4" cy="1193.5" r="8.2"/>
<circle cx="341.4" cy="1200.2" r="8.2"/>
<circle cx="341.4" cy="1198.75" r="8.2"/>
<circle cx="341.4" cy="1222.4" r="8.2"/>
<circle cx="341.4" cy="1281.1" r="8.2"/>
</g>
<path d="M303.00 1074.3H379.80" class="mn"/>
<path d="M303.00 1061.8H379.80" class="dt"/>
<path d="M303.00 1087.2H379.80" class="dt"/>
<g fill="#6f6f6f" class="pt">
<circle cx="580.9" cy="987.0" r="8.2"/>
<circle cx="580.9" cy="989.0" r="8.2"/>
<circle cx="580.9" cy="990.99" r="8.2"/>
<circle cx="580.9" cy="992.99" r="8.2"/>
<circle cx="580.9" cy="994.98" r="8.2"/>
<circle cx="580.9" cy="996.98" r="8.2"/>
<circle cx="580.9" cy="998.97" r="8.2"/>
<circle cx="580.9" cy="1000.97" r="8.2"/>
<circle cx="580.9" cy="1002.97" r="8.2"/>
<circle cx="580.9" cy="1004.96" r="8.2"/>
<circle cx="580.9" cy="1006.96" r="8.2"/>
<circle cx="580.9" cy="1008.95" r="8.2"/>
<circle cx="580.9" cy="1010.95" r="8.2"/>
<circle cx="580.9" cy="1012.94" r="8.2"/>
<circle cx="580.9" cy="1014.94" r="8.2"/>
<circle cx="580.9" cy="1016.93" r="8.2"/>
<circle cx="580.9" cy="1018.93" r="8.2"/>
<circle cx="580.9" cy="1020.93" r="8.2"/>
<circle cx="580.9" cy="1022.92" r="8.2"/>
<circle cx="580.9" cy="1024.92" r="8.2"/>
<circle cx="580.9" cy="1026.91" r="8.2"/>
<circle cx="580.9" cy="1028.91" r="8.2"/>
<circle cx="580.9" cy="1030.9" r="8.2"/>
<circle cx="580.9" cy="1032.9" r="8.2"/>
<circle cx="580.9" cy="1034.9" r="8.2"/>
<circle cx="580.9" cy="1036.89" r="8.2"/>
<circle cx="580.9" cy="1038.89" r="8.2"/>
<circle cx="580.9" cy="1040.88" r="8.2"/>
<circle cx="580.9" cy="1042.88" r="8.2"/>
<circle cx="580.9" cy="1044.87" r="8.2"/>
<circle cx="580.9" cy="1046.87" r="8.2"/>
<circle cx="580.9" cy="1048.87" r="8.2"/>
<circle cx="580.9" cy="1050.86" r="8.2"/>
<circle cx="580.9" cy="1052.86" r="8.2"/>
<circle cx="580.9" cy="1054.85" r="8.2"/>
<circle cx="580.9" cy="1056.85" r="8.2"/>
<circle cx="580.9" cy="1058.84" r="8.2"/>
<circle cx="580.9" cy="1060.84" r="8.2"/>
<circle cx="580.9" cy="1062.83" r="8.2"/>
<circle cx="580.9" cy="1064.83" r="8.2"/>
<circle cx="580.9" cy="1066.83" r="8.2"/>
<circle cx="580.9" cy="1068.82" r="8.2"/>
<circle cx="580.9" cy="1070.82" r="8.2"/>
<circle cx="580.9" cy="1072.81" r="8.2"/>
<circle cx="580.9" cy="1074.81" r="8.2"/>
<circle cx="580.9" cy="1076.8" r="8.2"/>
<circle cx="580.9" cy="1078.8" r="8.2"/>
<circle cx="580.9" cy="1080.8" r="8.2"/>
<circle cx="580.9" cy="1082.79" r="8.2"/>
<circle cx="580.9" cy="1084.79" r="8.2"/>
<circle cx="580.9" cy="1086.78" r="8.2"/>
<circle cx="580.9" cy="1088.78" r="8.2"/>
<circle cx="580.9" cy="1090.77" r="8.2"/>
<circle cx="580.9" cy="1092.77" r="8.2"/>
<circle cx="580.9" cy="1094.77" r="8.2"/>
<circle cx="580.9" cy="1096.76" r="8.2"/>
<circle cx="580.9" cy="1098.76" r="8.2"/>
<circle cx="580.9" cy="1100.75" r="8.2"/>
<circle cx="580.9" cy="1102.75" r="8.2"/>
<circle cx="580.9" cy="1104.74" r="8.2"/>
<circle cx="580.9" cy="1106.74" r="8.2"/>
<circle cx="580.9" cy="1108.73" r="8.2"/>
<circle cx="580.9" cy="1110.73" r="8.2"/>
<circle cx="580.9" cy="1112.73" r="8.2"/>
<circle cx="580.9" cy="1114.72" r="8.2"/>
<circle cx="580.9" cy="1116.72" r="8.2"/>
<circle cx="580.9" cy="1118.71" r="8.2"/>
<circle cx="580.9" cy="1120.71" r="8.2"/>
<circle cx="580.9" cy="1122.7" r="8.2"/>
<circle cx="580.9" cy="1124.7" r="8.2"/>
<circle cx="580.9" cy="1126.7" r="8.2"/>
<circle cx="580.9" cy="1128.69" r="8.2"/>
<circle cx="580.9" cy="1130.69" r="8.2"/>
<circle cx="580.9" cy="1132.68" r="8.2"/>
<circle cx="580.9" cy="1134.68" r="8.2"/>
<circle cx="580.9" cy="1136.67" r="8.2"/>
<circle cx="580.9" cy="1138.67" r="8.2"/>
<circle cx="580.9" cy="1140.67" r="8.2"/>
<circle cx="580.9" cy="1142.66" r="8.2"/>
<circle cx="580.9" cy="1144.66" r="8.2"/>
<circle cx="580.9" cy="1146.65" r="8.2"/>
<circle cx="580.9" cy="1148.65" r="8.2"/>
<circle cx="580.9" cy="1150.64" r="8.2"/>
<circle cx="580.9" cy="1152.64" r="8.2"/>
<circle cx="580.9" cy="1154.63" r="8.2"/>
<circle cx="580.9" cy="1156.63" r="8.2"/>
<circle cx="580.9" cy="1158.63" r="8.2"/>
<circle cx="580.9" cy="1160.62" r="8.2"/>
<circle cx="580.9" cy="1162.62" r="8.2"/>
<circle cx="580.9" cy="1164.61" r="8.2"/>
<circle cx="580.9" cy="1166.61" r="8.2"/>
<circle cx="580.9" cy="1168.6" r="8.2"/>
<circle cx="580.9" cy="1170.6" r="8.2"/>
<circle cx="580.9" cy="1103.5" r="8.2"/>
<circle cx="580.9" cy="1010" r="8.2"/>
<circle cx="580.9" cy="1047" r="8.2"/>
<circle cx="580.9" cy="1074" r="8.2"/>
<circle cx="580.9" cy="1089" r="8.2"/>
<circle cx="580.9" cy="1070.3" r="8.2"/>
<circle cx="580.9" cy="1137.3" r="8.2"/>
<circle cx="580.9" cy="1177.3" r="8.2"/>
<circle cx="580.9" cy="986.1" r="8.2"/>
<circle cx="580.9" cy="997.35" r="8.2"/>
<circle cx="580.9" cy="1022.5" r="8.2"/>
<circle cx="580.9" cy="1037.7" r="8.2"/>
<circle cx="580.9" cy="1056.5" r="8.2"/>
<circle cx="580.9" cy="1062.1" r="8.2"/>
<circle cx="580.9" cy="1094.4" r="8.2"/>
<circle cx="580.9" cy="1112.4" r="8.2"/>
<circle cx="580.9" cy="1122.4" r="8.2"/>
<circle cx="580.9" cy="1154.6" r="8.2"/>
<circle cx="580.9" cy="1170.6" r="8.2"/>
<circle cx="580.9" cy="1207.5" r="8.2"/>
<circle cx="580.9" cy="1222.3" r="8.2"/>
<circle cx="580.9" cy="1254.3" r="8.2"/>
</g>
<path d="M542.50 1094.2H619.30" class="mn"/>
<path d="M542.50 1084.3H619.30" class="dt"/>
<path d="M542.50 1104.6H619.30" class="dt"/>
<text transform="translate(351.5 1450.8) rotate(-90)" class="cat">Prefiltered</text>
<text transform="translate(589.1 1450.8) rotate(-90)" class="cat">Not prefiltered</text>
<text transform="translate(931.6 850.8) scale(0.96 1)" class="pl">(d)</text>
<path d="M932.50 881.85L933.45 1437.75" class="ax"/>
<path d="M920.7 1436.30L1646 1435.40" class="ax"/>
<path d="M920.7 1325.70H933.26" class="ax"/>
<path d="M920.7 1215.10H933.07" class="ax"/>
<path d="M920.7 1104.50H932.88" class="ax"/>
<path d="M920.7 993.90H932.69" class="ax"/>
<path d="M920.7 883.30H932.50" class="ax"/>
<text transform="translate(912.2 1447.65) scale(1 1.075)" class="tk">0.0</text>
<text transform="translate(912.2 1337.05) scale(1 1.075)" class="tk">0.2</text>
<text transform="translate(912.2 1226.45) scale(1 1.075)" class="tk">0.4</text>
<text transform="translate(912.2 1115.85) scale(1 1.075)" class="tk">0.6</text>
<text transform="translate(912.2 1005.25) scale(1 1.075)" class="tk">0.8</text>
<text transform="translate(912.2 894.65) scale(1 1.075)" class="tk">1.0</text>
<g fill="#ffffff" class="pt">
<circle cx="1079.5" cy="1094.5" r="8.2"/>
<circle cx="1079.5" cy="1122.1" r="8.2"/>
<circle cx="1079.5" cy="1145.4" r="8.2"/>
<circle cx="1079.5" cy="1182.5" r="8.2"/>
<circle cx="1079.5" cy="1201.3" r="8.2"/>
<circle cx="1079.5" cy="1199" r="8.2"/>
<circle cx="1079.5" cy="1193.7" r="8.2"/>
<circle cx="1079.5" cy="1226.6" r="8.2"/>
<circle cx="1079.5" cy="1234.9" r="8.2"/>
<circle cx="1079.5" cy="1256.5" r="8.2"/>
<circle cx="1079.5" cy="1274.3" r="8.2"/>
<circle cx="1079.5" cy="1285.2" r="8.2"/>
<circle cx="1079.5" cy="1061.7" r="8.2"/>
<circle cx="1079.5" cy="1089" r="8.2"/>
<circle cx="1079.5" cy="1109.6" r="8.2"/>
<circle cx="1079.5" cy="1153.4" r="8.2"/>
<circle cx="1079.5" cy="1169.3" r="8.2"/>
<circle cx="1079.5" cy="1196.6" r="8.2"/>
<circle cx="1079.5" cy="1229.5" r="8.2"/>
<circle cx="1079.5" cy="1260.2" r="8.2"/>
<circle cx="1079.5" cy="1287.2" r="8.2"/>
<circle cx="1079.5" cy="1319.8" r="8.2"/>
<circle cx="1079.5" cy="1380.1" r="8.2"/>
</g>
<path d="M1041.10 1186.5H1117.90" class="mn"/>
<path d="M1041.10 1158.5H1117.90" class="dt"/>
<path d="M1041.10 1215H1117.90" class="dt"/>
<g fill="#cbcbcb" class="pt">
<circle cx="1223.2" cy="1121.0" r="8.2"/>
<circle cx="1223.2" cy="1123.03" r="8.2"/>
<circle cx="1223.2" cy="1125.05" r="8.2"/>
<circle cx="1223.2" cy="1127.08" r="8.2"/>
<circle cx="1223.2" cy="1129.11" r="8.2"/>
<circle cx="1223.2" cy="1131.13" r="8.2"/>
<circle cx="1223.2" cy="1133.16" r="8.2"/>
<circle cx="1223.2" cy="1135.18" r="8.2"/>
<circle cx="1223.2" cy="1137.21" r="8.2"/>
<circle cx="1223.2" cy="1139.24" r="8.2"/>
<circle cx="1223.2" cy="1141.26" r="8.2"/>
<circle cx="1223.2" cy="1143.29" r="8.2"/>
<circle cx="1223.2" cy="1145.32" r="8.2"/>
<circle cx="1223.2" cy="1147.34" r="8.2"/>
<circle cx="1223.2" cy="1149.37" r="8.2"/>
<circle cx="1223.2" cy="1151.39" r="8.2"/>
<circle cx="1223.2" cy="1153.42" r="8.2"/>
<circle cx="1223.2" cy="1155.45" r="8.2"/>
<circle cx="1223.2" cy="1157.47" r="8.2"/>
<circle cx="1223.2" cy="1159.5" r="8.2"/>
<circle cx="1223.2" cy="1161.53" r="8.2"/>
<circle cx="1223.2" cy="1163.55" r="8.2"/>
<circle cx="1223.2" cy="1165.58" r="8.2"/>
<circle cx="1223.2" cy="1167.61" r="8.2"/>
<circle cx="1223.2" cy="1169.63" r="8.2"/>
<circle cx="1223.2" cy="1171.66" r="8.2"/>
<circle cx="1223.2" cy="1173.68" r="8.2"/>
<circle cx="1223.2" cy="1175.71" r="8.2"/>
<circle cx="1223.2" cy="1177.74" r="8.2"/>
<circle cx="1223.2" cy="1179.76" r="8.2"/>
<circle cx="1223.2" cy="1181.79" r="8.2"/>
<circle cx="1223.2" cy="1183.82" r="8.2"/>
<circle cx="1223.2" cy="1185.84" r="8.2"/>
<circle cx="1223.2" cy="1187.87" r="8.2"/>
<circle cx="1223.2" cy="1189.89" r="8.2"/>
<circle cx="1223.2" cy="1191.92" r="8.2"/>
<circle cx="1223.2" cy="1193.95" r="8.2"/>
<circle cx="1223.2" cy="1195.97" r="8.2"/>
<circle cx="1223.2" cy="1198.0" r="8.2"/>
<circle cx="1223.2" cy="949.8" r="8.2"/>
<circle cx="1223.2" cy="1022.6" r="8.2"/>
<circle cx="1223.2" cy="1013.4" r="8.2"/>
<circle cx="1223.2" cy="1057" r="8.2"/>
<circle cx="1223.2" cy="1118.3" r="8.2"/>
<circle cx="1223.2" cy="1144" r="8.2"/>
<circle cx="1223.2" cy="1176" r="8.2"/>
<circle cx="1223.2" cy="1199.2" r="8.2"/>
<circle cx="1223.2" cy="1256.3" r="8.2"/>
<circle cx="1223.2" cy="951" r="8.2"/>
<circle cx="1223.2" cy="1002.1" r="8.2"/>
<circle cx="1223.2" cy="1037.9" r="8.2"/>
<circle cx="1223.2" cy="1068" r="8.2"/>
<circle cx="1223.2" cy="1091.2" r="8.2"/>
<circle cx="1223.2" cy="1119.75" r="8.2"/>
<circle cx="1223.2" cy="1153.1" r="8.2"/>
<circle cx="1223.2" cy="1133.4" r="8.2"/>
<circle cx="1223.2" cy="1166.9" r="8.2"/>
<circle cx="1223.2" cy="1184.9" r="8.2"/>
<circle cx="1223.2" cy="1211.4" r="8.2"/>
<circle cx="1223.2" cy="1234.5" r="8.2"/>
<circle cx="1223.2" cy="1255.1" r="8.2"/>
</g>
<path d="M1184.80 1102H1261.60" class="mn"/>
<path d="M1184.80 1071.7H1261.60" class="dt"/>
<path d="M1184.80 1132.6H1261.60" class="dt"/>
<g fill="#999999" class="pt">
<circle cx="1366.8" cy="1025.8" r="8.2"/>
<circle cx="1366.8" cy="1046.5" r="8.2"/>
<circle cx="1366.8" cy="1066.5" r="8.2"/>
<circle cx="1366.8" cy="1106" r="8.2"/>
<circle cx="1366.8" cy="1127" r="8.2"/>
<circle cx="1366.8" cy="1140.4" r="8.2"/>
<circle cx="1366.8" cy="1138.5" r="8.2"/>
<circle cx="1366.8" cy="1177" r="8.2"/>
<circle cx="1366.8" cy="1189.1" r="8.2"/>
<circle cx="1366.8" cy="1009.6" r="8.2"/>
<circle cx="1366.8" cy="1034.5" r="8.2"/>
<circle cx="1366.8" cy="1058.9" r="8.2"/>
<circle cx="1366.8" cy="1074.2" r="8.2"/>
<circle cx="1366.8" cy="1095.3" r="8.2"/>
<circle cx="1366.8" cy="1117.4" r="8.2"/>
<circle cx="1366.8" cy="1136.5" r="8.2"/>
<circle cx="1366.8" cy="1178" r="8.2"/>
<circle cx="1366.8" cy="1236.1" r="8.2"/>
</g>
<path d="M1328.40 1083.8H1405.20" class="mn"/>
<path d="M1328.40 1065H1405.20" class="dt"/>
<path d="M1328.40 1102.5H1405.20" class="dt"/>
<g fill="#6f6f6f" class="pt">
<circle cx="1510.6" cy="1008.5" r="8.2"/>
<circle cx="1510.6" cy="1035.7" r="8.2"/>
<circle cx="1510.6" cy="1076.8" r="8.2"/>
<circle cx="1510.6" cy="1072.6" r="8.2"/>
<circle cx="1510.6" cy="1070" r="8.2"/>
<circle cx="1510.6" cy="1067.4" r="8.2"/>
<circle cx="1510.6" cy="1109" r="8.2"/>
<circle cx="1510.6" cy="1124.2" r="8.2"/>
<circle cx="1510.6" cy="1133" r="8.2"/>
<circle cx="1510.6" cy="1142.7" r="8.2"/>
<circle cx="1510.6" cy="1166" r="8.2"/>
<circle cx="1510.6" cy="1215.1" r="8.2"/>
<circle cx="1510.6" cy="950.5" r="8.2"/>
<circle cx="1510.6" cy="997" r="8.2"/>
<circle cx="1510.6" cy="1018.8" r="8.2"/>
<circle cx="1510.6" cy="1062.9" r="8.2"/>
<circle cx="1510.6" cy="1099.7" r="8.2"/>
<circle cx="1510.6" cy="1118.8" r="8.2"/>
<circle cx="1510.6" cy="1152.6" r="8.2"/>
<circle cx="1510.6" cy="1195.5" r="8.2"/>
<circle cx="1510.6" cy="1228" r="8.2"/>
<circle cx="1510.6" cy="1273.5" r="8.2"/>
</g>
<path d="M1472.20 1096.9H1549.00" class="mn"/>
<path d="M1472.20 1065.6H1549.00" class="dt"/>
<path d="M1472.20 1128.1H1549.00" class="dt"/>
<text x="1079" y="891.8" class="lt">b</text>
<text x="1223.3" y="891.8" class="lt">a</text>
<text x="1367" y="891.8" class="lt">a</text>
<text x="1510.3" y="891.8" class="lt">a</text>
<text transform="translate(1089.5 1455.2) rotate(-90)" class="cat">Ice</text>
<text transform="translate(1233.8 1455.5) rotate(-90)" class="cat">Buffer</text>
<text transform="translate(1373.8 1456.2) rotate(-90)" class="cat">Dry</text>
<text transform="translate(1520.4 1453.6) rotate(-90)" class="cat">EtOH</text>
</svg>
</body>
</html>
